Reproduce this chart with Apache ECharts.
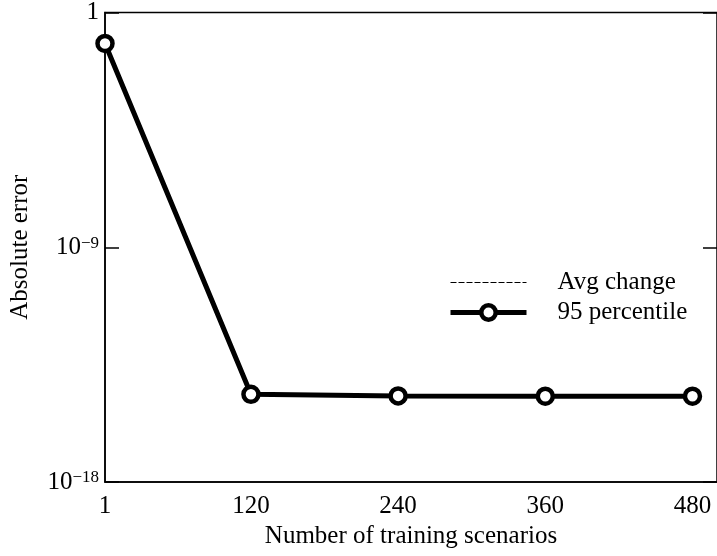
<!DOCTYPE html>
<html>
<head>
<meta charset="utf-8">
<script src="https://cdn.jsdelivr.net/npm/echarts@6/dist/echarts.min.js"></script>
<style>
  html, body { margin: 0; padding: 0; background: #fff; }
  #chart { width: 717px; height: 556px; }
</style>
</head>
<body>
<div id="chart"></div>
<script>
// training scenario counts on the x axis
const scenarios = [1, 120, 240, 360, 480]
// 95 percentile absolute error at each count
const percentile95 = [0.065, 2.3e-15, 2.0e-15, 1.95e-15, 1.95e-15]
// average change, a flat reference level
const avgChange = 1e-3
// tick values
const xTicks = [1, 120, 240, 360, 480]
const yTicks = [1e-18, 1e-9, 1]

const font = 'Liberation Serif, Times New Roman, serif'

// 1, 10^-9, 10^-18 with a raised exponent
function yLabel(v) {
  const e = Math.round(Math.log10(v))
  if (e === 0) return '{b|1}'
  return '{b|10}{s|' + (e < 0 ? '\u2212' + (-e) : e) + '}'
}

const chart = echarts.init(document.getElementById('chart'))

chart.setOption({
  animation: false,
  backgroundColor: '#fff',
  textStyle: { fontFamily: font, color: '#000' },
  grid: {
    left: 103, top: 12, right: -2, bottom: 74,
    show: true, borderColor: '#000', borderWidth: 1.5
  },
  legend: {
    orient: 'vertical',
    left: 443,
    top: 265,
    itemWidth: 76,
    itemHeight: 18,
    itemGap: 5,
    textStyle: { fontFamily: font, fontSize: 25, color: '#000', lineHeight: 25, padding: [0, 0, 0, 26] },
    data: [
      {
        name: 'Avg change',
        itemStyle: { opacity: 0 },
        lineStyle: { color: '#000', width: 1, type: [6, 2] }
      },
      {
        name: '95 percentile',
        itemStyle: { color: '#fff', borderColor: '#000', borderWidth: 4.5 },
        lineStyle: { color: '#000', width: 5 }
      }
    ]
  },
  xAxis: {
    type: 'value',
    min: 1,
    max: 500,
    name: 'Number of training scenarios',
    nameLocation: 'middle',
    nameGap: 42,
    nameTextStyle: { fontFamily: font, fontSize: 25, color: '#000' },
    axisLine: { show: true, lineStyle: { color: '#000', width: 1.5 } },
    axisTick: { show: false },
    splitLine: { show: false },
    axisLabel: {
      customValues: xTicks,
      fontFamily: font, fontSize: 25, color: '#000', margin: 12
    }
  },
  yAxis: [{
    type: 'log',
    logBase: 10,
    min: 1e-18,
    max: 1,
    name: 'Absolute error',
    nameLocation: 'middle',
    nameGap: 72,
    nameTextStyle: { fontFamily: font, fontSize: 25, color: '#000' },
    axisLine: { show: true, lineStyle: { color: '#000', width: 1.5 } },
    axisTick: { show: true, inside: true, length: 14, customValues: yTicks, lineStyle: { color: '#000', width: 1.5 } },
    splitLine: { show: false },
    axisLabel: {
      customValues: yTicks,
      margin: 6,
      formatter: yLabel,
      rich: {
        b: { fontFamily: font, fontSize: 25, color: '#000', lineHeight: 25 },
        s: { fontFamily: font, fontSize: 17, color: '#000', lineHeight: 17, verticalAlign: 'top', padding: [0, 0, 14, 0] }
      }
    }
  }, {
    type: 'log',
    logBase: 10,
    min: 1e-18,
    max: 1,
    position: 'right',
    axisLine: { show: false },
    axisTick: { show: true, inside: true, length: 14, customValues: yTicks, lineStyle: { color: '#000', width: 1.5 } },
    axisLabel: { show: false },
    splitLine: { show: false }
  }],
  series: [
    {
      name: 'Avg change',
      type: 'line',
      data: [],
      symbol: 'none',
      lineStyle: { color: '#000', width: 1, type: [6, 2] },
      itemStyle: { color: '#000' },
      markLine: {
        silent: true,
        symbol: 'none',
        label: { show: false },
        lineStyle: { color: '#000', width: 1, type: [6, 2] },
        data: [{ yAxis: avgChange }]
      }
    },
    {
      name: '95 percentile',
      type: 'line',
      data: scenarios.map((x, i) => [x, percentile95[i]]),
      symbol: 'circle',
      symbolSize: 15,
      lineStyle: { color: '#000', width: 5 },
      itemStyle: { color: '#fff', borderColor: '#000', borderWidth: 4.5 }
    }
  ]
})
</script>
</body>
</html>
